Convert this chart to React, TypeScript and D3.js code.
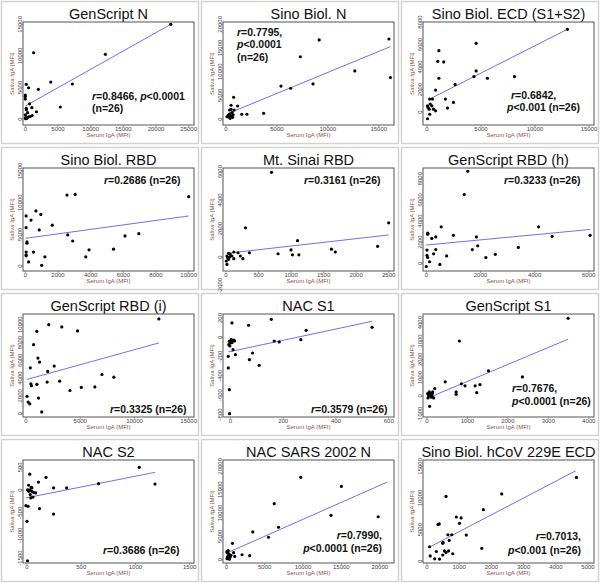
import React from 'react';
import * as d3 from 'd3';

const titles = [
  'GenScript N', 'Sino Biol. N', 'Sino Biol. ECD (S1+S2)',
  'Sino Biol. RBD', 'Mt. Sinai RBD', 'GenScript RBD (h)',
  'GenScript RBD (i)', 'NAC S1', 'GenScript S1',
  'NAC S2', 'NAC SARS 2002 N', 'Sino Biol. hCoV 229E ECD'
];

// [serum IgA, saliva IgA] per subject
const genscriptN = [[22250,15000],[1270,10500],[12250,10250],[3900,5850],[7200,5550],[150,5500],[500,4950],[2000,4700],[0,3800],[0,3550],[0,3150],[650,2400],[5350,1900],[1000,1800],[150,1700],[150,1450],[1700,1150],[1050,550],[500,350],[150,250],[250,100],[0,150],[750,400],[0,650],[350,1000],[50,50]];
const sinoN = [[9150,16700],[16000,16900],[7300,13150],[12650,10150],[16150,8750],[5400,6950],[6350,6500],[8550,7400],[750,4600],[1150,2750],[500,2900],[350,1900],[800,1900],[3700,1200],[2050,1000],[1550,1000],[250,500],[100,500],[400,150],[600,1350],[700,900],[350,1050],[500,650],[650,350],[250,850],[500,2050]];
const sinoECD = [[13000,7350],[4550,6100],[1100,5450],[1000,4500],[1550,4450],[4550,3650],[4350,3150],[5600,3000],[8100,3150],[1100,3000],[2600,2450],[800,1950],[1700,1150],[250,1150],[500,1150],[2450,850],[300,700],[1900,350],[600,250],[800,100],[50,550],[100,400],[200,250],[250,-200],[50,-600],[450,550]];
const sinoRBD = [[10000,10950],[3050,11300],[2550,11200],[650,8700],[950,8150],[50,7900],[350,7250],[1650,6450],[50,6050],[850,5700],[2600,4900],[6100,4750],[6950,5100],[2900,3950],[100,3800],[100,3600],[3900,2550],[5400,2650],[500,2200],[50,2200],[50,1750],[3700,1450],[1200,1450],[200,650],[1000,100],[50,1600]];
const sinaiRBD = [[700,5950],[300,2050],[2500,2400],[1100,1150],[1000,500],[1020,150],[1120,150],[1620,550],[1680,350],[2330,750],[360,300],[220,70],[800,230],[120,350],[65,190],[15,70],[5,-280],[25,-50],[15,-520],[185,300],[90,70],[40,260],[120,-120],[55,0],[260,-120],[40,-160]];
const genscriptRBDh = [[1530,8700],[1400,6500],[550,3450],[4150,3450],[4650,2550],[6050,2650],[1000,2650],[1850,2500],[50,2850],[50,2750],[200,2350],[350,2500],[1900,1650],[1700,1300],[3400,1500],[350,1300],[25,1250],[270,900],[750,700],[2550,850],[2200,550],[25,750],[50,550],[120,150],[500,-100],[0,-300]];
const genscriptRBDi = [[12250,10650],[2100,10000],[3300,9750],[1000,9250],[4750,9300],[700,7750],[1100,6250],[1250,5800],[2600,5350],[400,5150],[2000,4750],[7000,4400],[8100,4100],[1950,3550],[3100,3650],[1000,3300],[450,3350],[500,3150],[4050,2600],[5100,2950],[6350,3000],[100,1950],[1150,1750],[200,1300],[350,1100],[1450,200]];
const nacS1 = [[537,104],[155,187],[69,125],[6,149],[287,73],[267,-24],[166,-38],[185,-48],[84,-163],[72,-232],[109,-291],[19,-180],[10,-128],[-4,-41],[3,-24],[-6,-76],[9,-35],[16,-38],[0,-59],[6,-55],[13,-28],[-2,-90],[-8,-197],[-8,-318],[-4,-543],[-3,-792]];
const genscriptS1 = [[3490,4240],[800,3000],[1520,1370],[2360,1040],[450,770],[850,660],[1190,550],[1310,620],[940,550],[720,220],[720,90],[1230,180],[190,400],[140,220],[130,130],[80,160],[65,70],[40,0],[100,20],[25,-110],[110,-70],[55,220],[125,-30],[65,-570],[165,-110],[15,130]];
const nacS2 = [[1035,500],[1180,130],[25,350],[175,280],[105,175],[15,105],[40,60],[245,45],[365,45],[660,140],[5,5],[15,-30],[60,-50],[80,-65],[45,-30],[30,-100],[35,-175],[55,-155],[115,-410],[245,-530],[-10,-345],[10,-360],[0,-690],[5,-1560],[25,5],[45,45]];
const nacSARS = [[9700,17650],[15000,15700],[6250,12000],[13650,9500],[19800,9200],[3450,5950],[6800,6950],[5500,4800],[800,3500],[100,1800],[150,1450],[100,1550],[350,1200],[250,1950],[950,1500],[1100,700],[2050,1050],[3050,850],[200,700],[150,500],[450,700],[600,950],[100,200],[300,350],[500,550],[400,100]];
const sinoHCoV = [[4640,13250],[2320,10650],[590,10250],[1750,8150],[910,7000],[1060,6850],[1010,6000],[340,5800],[380,5900],[650,4200],[770,4200],[1220,4150],[690,3300],[500,3000],[490,2850],[80,2300],[1700,2050],[290,1550],[540,1650],[590,1400],[670,1650],[800,1200],[490,1000],[100,850],[240,400],[390,350]];

const points = [genscriptN, sinoN, sinoECD, sinoRBD, sinaiRBD, genscriptRBDh, genscriptRBDi, nacS1, genscriptS1, nacS2, nacSARS, sinoHCoV];

// regression line ends [x1, y1, x2, y2]
const fits = [
  [0, 2060, 22250, 15000], [260, 1200, 16150, 15300], [250, 1150, 13000, 7350],
  [0, 4370, 10000, 7900], [15, 260, 2500, 1550], [0, 1730, 6050, 3200],
  [100, 3850, 12250, 7950], [-8, -152, 537, 166], [25, -110, 3490, 3100],
  [-10, -175, 1180, 390], [100, 1450, 21000, 16650], [80, 2250, 4620, 14300]
];

const stats = [
  ['r=0.8466, p<0.0001', '(n=26)'], ['r=0.7795,', 'p<0.0001', '(n=26)'], ['r=0.6842,', 'p<0.001 (n=26)'],
  ['r=0.2686 (n=26)'], ['r=0.3161 (n=26)'], ['r=0.3233 (n=26)'],
  ['r=0.3325 (n=26)'], ['r=0.3579 (n=26)'], ['r=0.7676,', 'p<0.0001 (n=26)'],
  ['r=0.3686 (n=26)'], ['r=0.7990,', 'p<0.0001 (n=26)'], ['r=0.7013,', 'p<0.001 (n=26)']
];

const xTicks = [
  [0, 5000, 10000, 15000, 20000, 25000], [0, 5000, 10000, 15000], [0, 5000, 10000, 15000],
  [0, 2000, 4000, 6000, 8000, 10000], [0, 500, 1000, 1500, 2000, 2500], [0, 2000, 4000, 6000],
  [0, 5000, 10000, 15000], [0, 200, 400, 600], [0, 1000, 2000, 3000, 4000],
  [0, 500, 1000, 1500], [0, 5000, 10000, 15000, 20000], [0, 1000, 2000, 3000, 4000, 5000]
];
const yTicks = [
  [0, 5000, 10000, 15000], [0, 5000, 10000, 15000, 20000], [0, 2000, 4000, 6000, 8000],
  [0, 5000, 10000, 15000], [-2000, 0, 2000, 4000, 6000], [0, 2000, 4000, 6000, 8000],
  [0, 2000, 4000, 6000, 8000, 10000], [-800, -600, -400, -200, 0, 200], [-1000, 0, 1000, 2000, 3000, 4000],
  [-1500, -1000, -500, 0, 500], [0, 5000, 10000, 15000, 20000], [0, 5000, 10000, 15000]
];
// axis ranges at the plot frame edges
const xDomains = [
  [-356, 25813], [-293, 16498], [-369, 15462], [-142, 10325], [-46, 2582], [-123, 6196],
  [-276, 15488], [-28, 620], [-99, 4130], [-37, 1540], [-433, 21861], [-124, 5186]
];
const yDomains = [
  [-951, 15372], [-1268, 20493], [-1156, 8000], [-789, 15474], [-984, 6257], [-724, 9008],
  [-375, 11199], [-827, 242], [-1151, 4475], [-1610, 662], [-714, 21357], [-263, 16000]
];

// annotation placement: [x, baseline, anchor] per line
const statPos = [
  [[92, 100, 'start'], [92, 112, 'start']],
  [[37, 36, 'start'], [37, 48, 'start'], [37, 61, 'start']],
  [[111, 99, 'start'], [107, 111, 'start']],
  [[104, 38, 'start']], [[104, 38, 'start']], [[104, 38, 'start']],
  [[110, 121, 'start']], [[111, 121, 'start']],
  [[112, 100, 'start'], [112, 113, 'start']],
  [[103, 116, 'start']],
  [[182, 101, 'end'], [182, 114, 'end']],
  [[181, 102, 'end'], [181, 116, 'end']]
];

const W = 600, H = 583;
const cellW = 200;
const rowTop = [0, 146, 292, 438];
const box = { left: 23, right: 194, top: 22, bottom: 125 };
const font = '"Liberation Sans", Arial, sans-serif';

function StatText({ text, x, y, anchor }) {
  const parts = text.split(/([rp])(?=[=<])/).filter(s => s !== '');
  return (
    <text x={x} y={y} textAnchor={anchor} fontFamily={font} fontSize={10.5} fontWeight="bold" fill="#111">
      {parts.map((p, i) => (
        <tspan key={i} fontStyle={p === 'r' || p === 'p' ? 'italic' : 'normal'}>{p}</tspan>
      ))}
    </text>
  );
}

function Panel({ i }) {
  const col = i % 3, row = Math.floor(i / 3);
  const x = d3.scaleLinear().domain(xDomains[i]).range([box.left, box.right]);
  const y = d3.scaleLinear().domain(yDomains[i]).range([box.bottom, box.top]);
  const line = d3.line().x(d => x(d[0])).y(d => y(d[1]));
  const f = fits[i];
  const midY = (box.top + box.bottom) / 2;
  return (
    <g transform={`translate(${col * cellW},${rowTop[row]})`}>
      <rect x={1.5} y={1.5} width={cellW - 3} height={142} fill="#fff" stroke="#d2d2d2" strokeWidth={1.5} />
      <text x={(box.left + box.right) / 2} y={18.5} textAnchor="middle" fontFamily={font} fontSize={14.5} fill="#111">
        {titles[i]}
      </text>
      <rect x={box.left} y={box.top} width={box.right - box.left} height={box.bottom - box.top}
        fill="none" stroke="#555" strokeWidth={1} />
      {xTicks[i].map(t => (
        <g key={'x' + t}>
          <line x1={x(t)} x2={x(t)} y1={box.bottom} y2={box.bottom + 2} stroke="#666" strokeWidth={0.6} />
          <text x={x(t)} y={131} textAnchor="middle" fontFamily={font} fontSize={6} fill="#444">{t}</text>
        </g>
      ))}
      {yTicks[i].map(t => (
        <g key={'y' + t}>
          <line x1={box.left - 2} x2={box.left} y1={y(t)} y2={y(t)} stroke="#666" strokeWidth={0.6} />
          <text transform={`translate(${box.left - 1.5},${y(t)}) rotate(-90)`} textAnchor="middle"
            fontFamily={font} fontSize={6} fill="#444">{t}</text>
        </g>
      ))}
      <text x={(box.left + box.right) / 2} y={137} textAnchor="middle" fontFamily={font} fontSize={6} fill="#8a5246">
        Serum IgA (MFI)
      </text>
      <text transform={`translate(14,${midY}) rotate(-90)`} textAnchor="middle" fontFamily={font} fontSize={6} fill="#8a5246">
        Saliva IgA (MFI)
      </text>
      <path d={line([[f[0], f[1]], [f[2], f[3]]])} fill="none" stroke="#6f6ff2" strokeWidth={1} />
      {points[i].map((d, k) => (
        <circle key={k} cx={x(d[0])} cy={y(d[1])} r={1.6} fill="#000" />
      ))}
      {stats[i].map((s, k) => (
        <StatText key={k} text={s} x={statPos[i][k][0]} y={statPos[i][k][1]} anchor={statPos[i][k][2]} />
      ))}
    </g>
  );
}

export default function App() {
  return (
    <svg width={W} height={H} style={{ position: 'absolute', left: 0, top: 0, background: '#fff' }}>
      <rect width={W} height={H} fill="#fff" />
      {titles.map((_, i) => <Panel key={i} i={i} />)}
    </svg>
  );
}
